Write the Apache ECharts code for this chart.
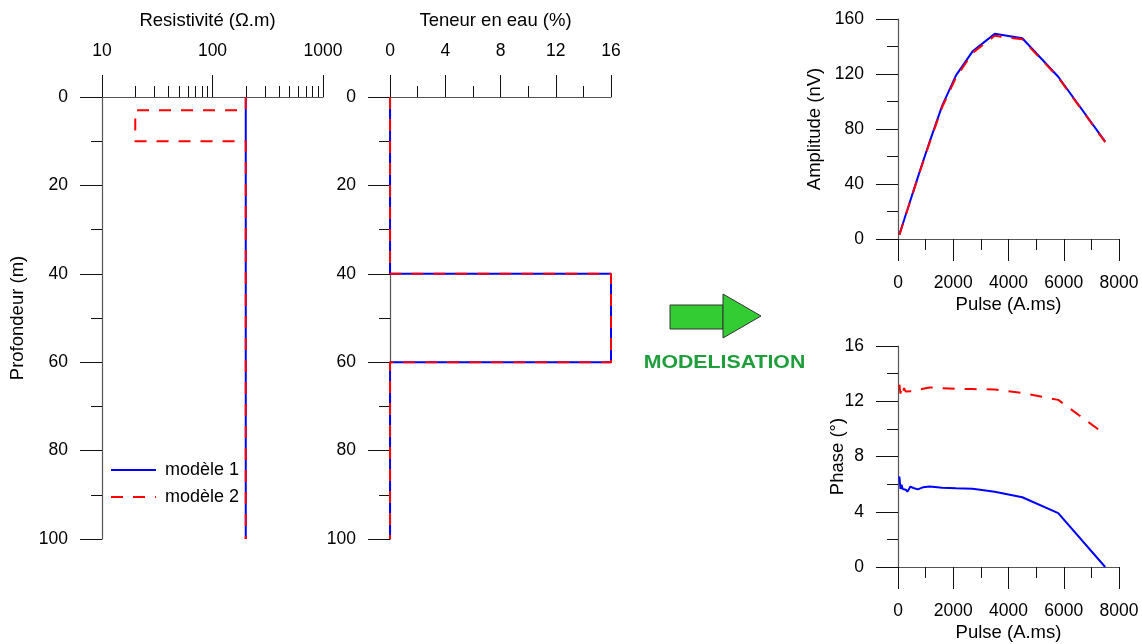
<!DOCTYPE html>
<html>
<head>
<meta charset="utf-8">
<script src="https://cdn.jsdelivr.net/npm/echarts@6/dist/echarts.min.js"></script>
<style>
html,body{margin:0;padding:0;background:#fff;}
#chart{width:1142px;height:644px;}
</style>
</head>
<body>
<div id="chart"></div>
<script>
// ---- Data ----
const resM1 = [200, 200];
const resDepthM1 = [0, 100];
const resM2 = [200, 200, 20, 20, 200, 200];
const resDepthM2 = [0, 3, 3, 10, 10, 100];
const resMinorTicks = [20, 30, 40, 50, 60, 70, 80, 90, 200, 300, 400, 500, 600, 700, 800, 900];

const wcM1 = [0, 0, 16, 16, 0, 0];
const wcM2 = [0, 0, 16, 16, 0, 0];
const wcDepth = [0, 40, 40, 60, 60, 100];

const pulses = [50, 90, 130, 170, 220, 280, 340, 450, 560, 720, 900, 1150, 1600, 2100, 2700, 3500, 4500, 5800, 7500];
const ampM1 = [3.2, 5.7, 8.2, 10.7, 13.8, 17.6, 21.3, 28.2, 35, 45, 56, 71, 97, 119, 136.5, 149.2, 146, 118, 70.8];
const ampM2 = [3.0, 5.5, 8.0, 10.5, 13.6, 17.4, 21.1, 28.0, 34.8, 44.7, 55.6, 70.5, 96, 117.5, 135.3, 147.8, 145.2, 117.5, 70.4];
const phaseM1 = [6.55, 5.65, 5.95, 5.65, 5.75, 5.6, 5.45, 5.82, 5.72, 5.62, 5.77, 5.82, 5.74, 5.7, 5.66, 5.45, 5.05, 3.9, 0.0];
const phaseM2 = [13.2, 12.55, 12.95, 12.6, 12.95, 12.7, 12.75, 12.72, 12.7, 12.8, 12.9, 13.0, 12.95, 12.9, 12.88, 12.85, 12.6, 12.1, 9.6];

const names = ['modèle 1', 'modèle 2'];
// ---- End data ----

const FONT = 'Liberation Sans, Arial, sans-serif';
const pair = (xs, ys) => xs.map((x, i) => [x, ys[i]]);
const plain = v => String(v);

const blue = '#0000ff', red = '#ff0000';
const lineBlue = {color: blue, width: 2, type: 'solid'};
const lineRed = {color: red, width: 2, type: [12, 10]};

function labelStyle(margin) {
  return {color: '#000', fontFamily: FONT, fontSize: 17.5, margin: margin, formatter: plain,
    showMinLabel: true, showMaxLabel: true, hideOverlap: false};
}

function baseAxis(extra) {
  return Object.assign({
    axisLine: {show: true, onZero: false, lineStyle: {color: '#555', width: 1.2}},
    axisTick: {show: true, inside: false, length: 22, lineStyle: {color: '#111', width: 1}},
    minorTick: {show: true, splitNumber: 2, length: 11, lineStyle: {color: '#111', width: 1}},
    splitLine: {show: false},
    minorSplitLine: {show: false},
    axisLabel: labelStyle(34),
    nameLocation: 'middle',
    nameMoveOverlap: false,
    nameTextStyle: {color: '#000', fontFamily: FONT, fontSize: 18.5}
  }, extra);
}

const option = {
  animation: false,
  backgroundColor: '#fff',
  textStyle: {fontFamily: FONT},
  grid: [
    {left: 102, top: 97, width: 221, height: 442, containLabel: false, outerBoundsMode: 'none'},
    {left: 390, top: 97, width: 221, height: 442, containLabel: false, outerBoundsMode: 'none'},
    {left: 898, top: 19, width: 221, height: 220, containLabel: false, outerBoundsMode: 'none'},
    {left: 898, top: 346, width: 221, height: 221, containLabel: false, outerBoundsMode: 'none'}
  ],
  legend: {
    data: names,
    left: 110, top: 461,
    padding: 0,
    orient: 'vertical',
    itemWidth: 45, itemHeight: 14, itemGap: 9,
    itemStyle: {color: 'rgba(0,0,0,0)', borderWidth: 0, opacity: 0},
    textStyle: {color: '#000', fontFamily: FONT, fontSize: 18, padding: [0, 0, 0, 4]}
  },
  xAxis: [
    baseAxis({gridIndex: 0, type: 'log', logBase: 10, min: 10, max: 1000, position: 'top',
      name: 'Resistivité (Ω.m)', nameGap: 67,
      nameTextStyle: {color: '#000', fontFamily: FONT, fontSize: 18.5, padding: [0, 10, 0, 0]},
      minorTick: {show: false},
      axisLabel: labelStyle(37)}),
    {gridIndex: 0, type: 'log', logBase: 10, min: 10, max: 1000, position: 'top',
      axisLine: {show: false}, axisLabel: {show: false}, splitLine: {show: false},
      axisTick: {show: true, inside: false, length: 11, customValues: resMinorTicks, lineStyle: {color: '#111', width: 1}}},
    baseAxis({gridIndex: 1, type: 'value', min: 0, max: 16, interval: 4, position: 'top',
      name: 'Teneur en eau (%)', nameGap: 67,
      nameTextStyle: {color: '#000', fontFamily: FONT, fontSize: 18.5, padding: [0, 10, 0, 0]},
      axisLabel: labelStyle(37)}),
    baseAxis({gridIndex: 2, type: 'value', min: 0, max: 8000, interval: 2000, position: 'bottom',
      name: 'Pulse (A.ms)', nameGap: 56, axisLabel: labelStyle(35)}),
    baseAxis({gridIndex: 3, type: 'value', min: 0, max: 8000, interval: 2000, position: 'bottom',
      name: 'Pulse (A.ms)', nameGap: 56, axisLabel: labelStyle(35)})
  ],
  yAxis: [
    baseAxis({gridIndex: 0, type: 'value', min: 0, max: 100, interval: 20, inverse: true, position: 'left',
      name: 'Profondeur (m)', nameGap: 75}),
    baseAxis({gridIndex: 1, type: 'value', min: 0, max: 100, interval: 20, inverse: true, position: 'left'}),
    baseAxis({gridIndex: 2, type: 'value', min: 0, max: 160, interval: 40, position: 'left',
      name: 'Amplitude (nV)', nameGap: 74}),
    baseAxis({gridIndex: 3, type: 'value', min: 0, max: 16, interval: 4, position: 'left',
      name: 'Phase (°)', nameGap: 51})
  ],
  series: [
    {name: names[0], type: 'line', xAxisIndex: 0, yAxisIndex: 0, data: pair(resM1, resDepthM1), symbol: 'none', clip: false, lineStyle: lineBlue, itemStyle: {color: blue}, z: 3},
    {name: names[1], type: 'line', xAxisIndex: 0, yAxisIndex: 0, data: pair(resM2, resDepthM2), symbol: 'none', clip: false, lineStyle: lineRed, itemStyle: {color: red}, z: 4},
    {name: names[0], type: 'line', xAxisIndex: 2, yAxisIndex: 1, data: pair(wcM1, wcDepth), symbol: 'none', clip: false, lineStyle: lineBlue, itemStyle: {color: blue}, z: 3},
    {name: names[1], type: 'line', xAxisIndex: 2, yAxisIndex: 1, data: pair(wcM2, wcDepth), symbol: 'none', clip: false, lineStyle: lineRed, itemStyle: {color: red}, z: 4},
    {name: names[0], type: 'line', xAxisIndex: 3, yAxisIndex: 2, data: pair(pulses, ampM1), symbol: 'none', clip: false, lineStyle: lineBlue, itemStyle: {color: blue}, z: 3},
    {name: names[1], type: 'line', xAxisIndex: 3, yAxisIndex: 2, data: pair(pulses, ampM2), symbol: 'none', clip: false, lineStyle: lineRed, itemStyle: {color: red}, z: 4},
    {name: names[0], type: 'line', xAxisIndex: 4, yAxisIndex: 3, data: pair(pulses, phaseM1), symbol: 'none', clip: false, lineStyle: lineBlue, itemStyle: {color: blue}, z: 3},
    {name: names[1], type: 'line', xAxisIndex: 4, yAxisIndex: 3, data: pair(pulses, phaseM2), symbol: 'none', clip: false, lineStyle: lineRed, itemStyle: {color: red}, z: 4}
  ],
  graphic: [
    {type: 'rect', shape: {x: 670, y: 305, width: 53, height: 24}, style: {fill: '#33cc33', stroke: '#333', lineWidth: 1}},
    {type: 'polygon', shape: {points: [[723, 294], [761, 316], [723, 338]]}, style: {fill: '#33cc33', stroke: '#333', lineWidth: 1}},
    {type: 'text', x: 724.5, y: 363, scaleX: 1.12,
      style: {text: 'MODELISATION', fill: '#1f9e3c', font: 'bold 19px ' + FONT, textAlign: 'center', textVerticalAlign: 'middle'}}
  ]
};

const chart = echarts.init(document.getElementById('chart'), null, {renderer: 'canvas'});
chart.setOption(option);
</script>
</body>
</html>
